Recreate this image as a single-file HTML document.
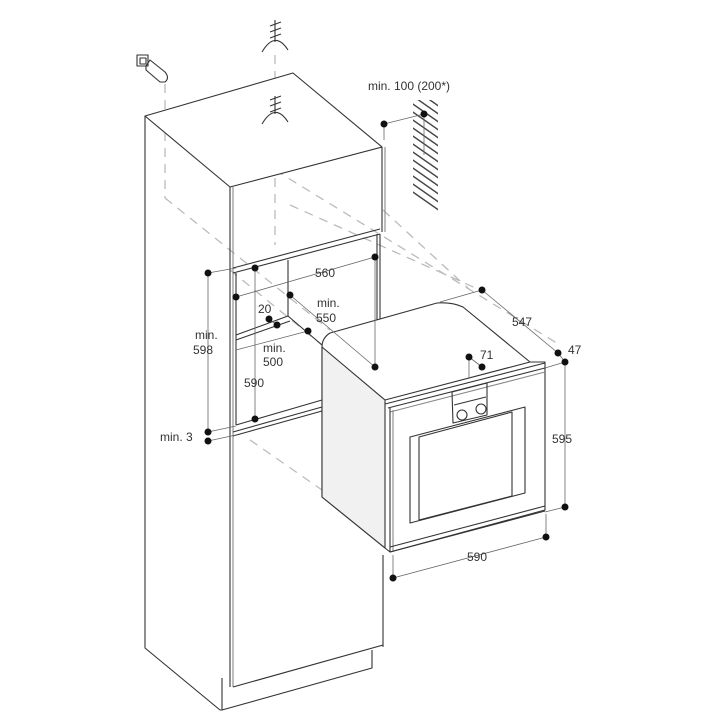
<!DOCTYPE html>
<html><head><meta charset="utf-8"><style>
body{margin:0;background:#fff}
svg{display:block}
text{font-family:"Liberation Sans",sans-serif;font-size:12px;fill:#333}
</style></head><body>
<svg width="720" height="720" viewBox="0 0 720 720" xmlns="http://www.w3.org/2000/svg">
<defs>
<clipPath id="hc"><polygon points="413,100 438,100 438,213 413,195"/></clipPath>
</defs>
<g fill="none" stroke="#bbb" stroke-width="1.3" stroke-dasharray="9,7">
<line x1="165" y1="84" x2="165" y2="198"/>
<line x1="275" y1="55" x2="275" y2="95"/>
<line x1="275" y1="130" x2="275" y2="245"/>
<line x1="165" y1="198" x2="330" y2="330"/>
<line x1="230" y1="270" x2="322" y2="345"/>
<line x1="275" y1="170" x2="560" y2="345"/>
<line x1="290" y1="205" x2="480" y2="290"/>
<line x1="250" y1="440" x2="322" y2="490"/>
<line x1="383" y1="210" x2="470" y2="290"/>
</g>
<g fill="none" stroke="#333" stroke-width="1.1" stroke-linejoin="round">
<!-- cabinet top -->
<polygon points="145,116 293,73 382,147 230,187" fill="#fff"/>
<!-- left side -->
<polyline points="145,116 145,648 220,710 222,710"/>
<line x1="230" y1="187" x2="230" y2="687"/>
<line x1="233" y1="187" x2="233" y2="687" stroke="#888"/>
<line x1="382" y1="147" x2="382" y2="232"/>
<line x1="385" y1="147" x2="385" y2="232" stroke="#888"/>
<!-- upper panel bottom -->
<line x1="233" y1="268" x2="380" y2="229"/>
<line x1="233" y1="273" x2="380" y2="234"/>
<!-- niche frame -->
<line x1="236" y1="273" x2="236" y2="425"/>
<line x1="377" y1="234" x2="377" y2="333"/>
<line x1="380" y1="234" x2="380" y2="333"/>
<line x1="288" y1="260" x2="288" y2="316"/>
<line x1="236" y1="335" x2="288" y2="316"/>
<line x1="236" y1="340" x2="290" y2="321"/>
<line x1="288" y1="316" x2="322" y2="345"/>
<line x1="236" y1="425" x2="322" y2="400"/>
<line x1="233" y1="432" x2="322" y2="407"/>
<line x1="233" y1="436" x2="322" y2="411"/>
<!-- lower cabinet -->
<line x1="383" y1="555" x2="383" y2="647"/>
<line x1="233" y1="687" x2="383" y2="645"/>
<polyline points="222,678 222,710 372,668 372,650"/>
<!-- oven -->
<path d="M322,347 Q322,338 330,333 L437,303 Q452,302 463,307 L530,362 L545,362 L545,510 L390,552 L385,548 L322,497 Z" fill="#fff"/>
<path d="M322,347 L322,497 L385,548 L385,400 Z" fill="#f1f1f1"/>
<line x1="385" y1="400" x2="530" y2="362"/>
<line x1="385" y1="404" x2="545" y2="363"/>
<line x1="388" y1="408" x2="545" y2="368"/>
<line x1="390" y1="412" x2="545" y2="372" stroke="#888"/>
<line x1="390" y1="408" x2="390" y2="552"/>
<line x1="393" y1="410" x2="393" y2="552" stroke="#888"/>
<line x1="390" y1="547" x2="545" y2="506"/>
<line x1="390" y1="552" x2="545" y2="511"/>
<polygon points="410,437 525,407 525,493 410,523"/>
<polygon points="419,437 512,412 512,496 419,520"/>
<polygon points="452,392 487,383 487,415 453,423"/>
<line x1="454" y1="405" x2="486" y2="397"/>
<circle cx="462" cy="415" r="5"/>
<circle cx="481" cy="409" r="5"/>
<!-- ceiling symbols -->
<path d="M262,52 Q275,30 288,50"/>
<path d="M262,124 Q275,102 288,122"/>
<line x1="275" y1="20" x2="275" y2="42"/>
<line x1="270" y1="26" x2="281" y2="22"/>
<line x1="270" y1="32" x2="281" y2="28"/>
<line x1="270" y1="38" x2="281" y2="34"/>
<line x1="275" y1="96" x2="275" y2="114"/>
<line x1="270" y1="100" x2="281" y2="96"/>
<line x1="270" y1="106" x2="281" y2="102"/>
<line x1="270" y1="112" x2="281" y2="108"/>
<!-- socket/plug -->
<rect x="137" y="55" width="11" height="11"/>
<rect x="140" y="58" width="6" height="6"/>
<path d="M146,66 L150,60 L165,72 Q170,78 165,82 L160,82 L146,70 Z"/>
</g>
<!-- hatch -->
<g clip-path="url(#hc)" stroke="#444" stroke-width="1.4">
<line x1="400" y1="95" x2="450" y2="130"/><line x1="400" y1="103" x2="450" y2="138"/>
<line x1="400" y1="111" x2="450" y2="146"/><line x1="400" y1="119" x2="450" y2="154"/>
<line x1="400" y1="127" x2="450" y2="162"/><line x1="400" y1="135" x2="450" y2="170"/>
<line x1="400" y1="143" x2="450" y2="178"/><line x1="400" y1="151" x2="450" y2="186"/>
<line x1="400" y1="159" x2="450" y2="194"/><line x1="400" y1="167" x2="450" y2="202"/>
<line x1="400" y1="175" x2="450" y2="210"/><line x1="400" y1="183" x2="450" y2="218"/>
<line x1="400" y1="191" x2="450" y2="226"/><line x1="400" y1="87" x2="450" y2="122"/>
<line x1="400" y1="79" x2="450" y2="114"/><line x1="400" y1="71" x2="450" y2="106"/>
</g>
<!-- dimension lines -->
<g stroke="#666" stroke-width="0.8" fill="none">
<line x1="384" y1="124" x2="424" y2="114"/><line x1="424" y1="114" x2="424" y2="155"/><line x1="384" y1="124" x2="384" y2="140"/>
<line x1="208" y1="273" x2="208" y2="432"/><line x1="208" y1="273" x2="236" y2="268"/>
<line x1="208" y1="432" x2="236" y2="426"/><line x1="208" y1="441" x2="236" y2="435"/>
<line x1="255" y1="268" x2="255" y2="419"/>
<line x1="236" y1="297" x2="375" y2="257"/>
<line x1="375" y1="257" x2="375" y2="367"/>
<line x1="290" y1="295" x2="375" y2="367"/>
<line x1="269" y1="319" x2="277" y2="325"/>
<line x1="236" y1="350" x2="308" y2="331"/>
<line x1="482" y1="290" x2="558" y2="353"/>
<line x1="440" y1="302" x2="482" y2="290"/>
<line x1="558" y1="353" x2="565" y2="362"/>
<line x1="545" y1="368" x2="565" y2="362"/>
<line x1="565" y1="362" x2="565" y2="507"/>
<line x1="545" y1="512" x2="565" y2="507"/>
<line x1="469" y1="357" x2="469" y2="378"/><line x1="469" y1="357" x2="482" y2="367"/>
<line x1="393" y1="555" x2="393" y2="578"/><line x1="546" y1="514" x2="546" y2="537"/>
<line x1="393" y1="578" x2="546" y2="537"/>
</g>
<g fill="#111">
<circle cx="384" cy="124" r="3.5"/><circle cx="424" cy="114" r="3.5"/>
<circle cx="208" cy="273" r="3.5"/><circle cx="208" cy="432" r="3.5"/><circle cx="208" cy="441" r="3.5"/>
<circle cx="255" cy="268" r="3.5"/><circle cx="255" cy="419" r="3.5"/>
<circle cx="236" cy="297" r="3.5"/><circle cx="375" cy="257" r="3.5"/>
<circle cx="290" cy="295" r="3.5"/><circle cx="375" cy="367" r="3.5"/>
<circle cx="269" cy="319" r="3.5"/><circle cx="277" cy="325" r="3.5"/><circle cx="308" cy="331" r="3.5"/>
<circle cx="482" cy="290" r="3.5"/><circle cx="558" cy="353" r="3.5"/><circle cx="565" cy="362" r="3.5"/>
<circle cx="565" cy="507" r="3.5"/><circle cx="546" cy="537" r="3.5"/><circle cx="393" cy="578" r="3.5"/>
<circle cx="469" cy="357" r="3.5"/><circle cx="482" cy="367" r="3.5"/>
</g>
<text x="409" y="90" text-anchor="middle">min. 100 (200*)</text>
<text x="325" y="277" text-anchor="middle">560</text>
<text x="317" y="307">min.</text><text x="316" y="322">550</text>
<text x="258" y="313">20</text>
<text x="263" y="352">min.</text><text x="263" y="366">500</text>
<text x="195" y="339">min.</text><text x="193" y="354">598</text>
<text x="244" y="387">590</text>
<text x="160" y="441">min. 3</text>
<text x="512" y="326">547</text>
<text x="568" y="354">47</text>
<text x="480" y="359">71</text>
<text x="552" y="443">595</text>
<text x="467" y="561">590</text>
</svg>
</body></html>
